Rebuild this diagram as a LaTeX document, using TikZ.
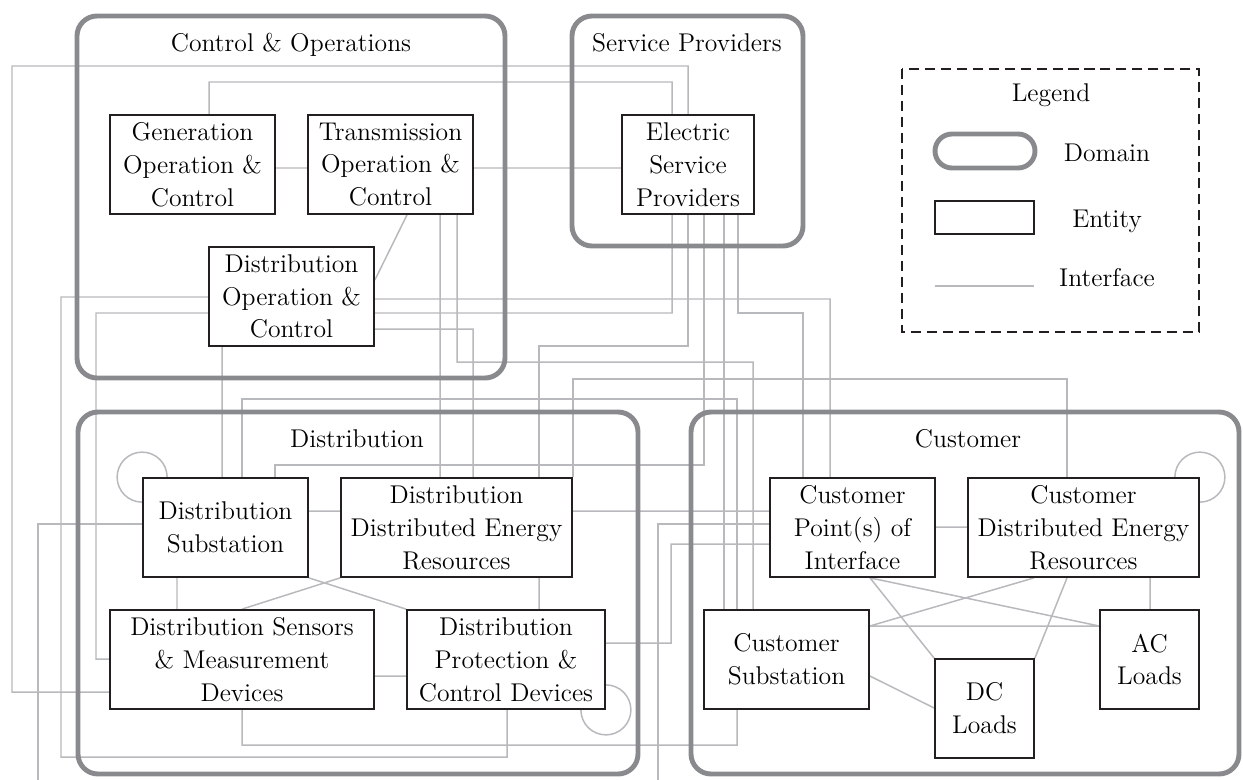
\documentclass[tikz,border=0pt]{standalone}
\usepackage{fontspec}
\usetikzlibrary{backgrounds}

\definecolor{domgray}{RGB}{137,138,142}
\definecolor{ifgray}{RGB}{184,185,189}
\definecolor{boxblk}{RGB}{35,31,32}
\newcommand{\boxfont}{\rmfamily\fontsize{14.6}{18.7}\selectfont}

\tikzset{
    entity/.style={draw=boxblk, fill=white, line width=1pt, align=center,
        inner sep=0pt, minimum height=19.8mm, text=black, font=\boxfont},
    domainbox/.style={draw=domgray, line width=2.8pt, rounded corners=4mm},
    iface/.style={draw=ifgray, line width=0.85pt},
    title/.style={anchor=base, text=black, font=\boxfont}
}

\begin{document}
\begin{tikzpicture}[x=0.2mm, y=-0.2mm]
    \useasboundingbox (0,0) rectangle (1243,779);

    \node[entity, minimum width=33mm] (gen) at (192.5,164.5) {Generation\\Operation \&\\Control};
    \node[entity, minimum width=33mm] (trans) at (390.5,164.5) {Transmission\\Operation \&\\Control};
    \node[entity, minimum width=33mm] (doc) at (291.5,296.5) {Distribution\\Operation \&\\Control};
    \node[entity, minimum width=26.4mm] (esp) at (688,164.5) {Electric\\Service\\Providers};
    \node[entity, minimum width=33mm] (dsub) at (225.5,527.5) {Distribution\\Substation};
    \node[entity, minimum width=46.2mm] (dder) at (456.5,527.5) {Distribution\\Distributed Energy\\Resources};
    \node[entity, minimum width=52.8mm] (dsmd) at (242,659.5) {Distribution Sensors\\\& Measurement\\Devices};
    \node[entity, minimum width=39.6mm] (dpcd) at (506,659.5) {Distribution\\Protection \&\\Control Devices};
    \node[entity, minimum width=33mm] (cpoi) at (852.5,527.5) {Customer\\Point(s) of\\Interface};
    \node[entity, minimum width=46.2mm] (cder) at (1083.5,527.5) {Customer\\Distributed Energy\\Resources};
    \node[entity, minimum width=33mm] (csub) at (786.5,659.5) {Customer\\Substation};
    \node[entity, minimum width=19.8mm] (dcl) at (984.5,708.5) {DC\\Loads};
    \node[entity, minimum width=19.8mm] (acl) at (1149.5,659.5) {AC\\Loads};

    \begin{scope}[on background layer]
        \draw[iface] (gen.east |- 0,168) -- (trans.west |- 0,168)
                     (trans.east |- 0,168) -- (esp.west |- 0,168)
                     (gen.north -| 209,0) |- (672,82) -- (esp.north -| 672,0)
                     (esp.north -| 688,0) |- (12,66) |- (dsmd.west |- 0,692)
                     (trans.south -| 407,0) -- (doc.east |- 0,280)
                     (trans.south -| 440,0) -- (dder.north -| 440,0)
                     (trans.south -| 457,0) |- (753,362) -- (csub.north -| 753,0)
                     (doc.east |- 0,299) -| (cpoi.north -| 830,0)
                     (doc.east |- 0,313) -| (esp.south -| 672,0)
                     (doc.east |- 0,329) -| (dder.north -| 473,0)
                     (doc.west |- 0,297) -| (61,757) -| (dpcd.south -| 507,0)
                     (doc.west |- 0,313) -| (96,659) -- (dsmd.west |- 0,659)
                     (doc.south -| 222,0) -- (dsub.north -| 222,0);
        \draw[iface] (esp.south -| 688,0) |- (539,346) -- (dder.north -| 539,0)
                     (esp.south -| 704,0) |- (275,465) -- (dsub.north -| 275,0)
                     (esp.south -| 724,0) -- (csub.north -| 724,0)
                     (esp.south -| 738,0) |- (803,313) -- (cpoi.north -| 803,0)
                     (dsub.north -| 242,0) |- (737,399) -- (csub.north -| 737,0)
                     (dder.north east) |- (1067,379) -- (cder.north -| 1067,0)
                     (dsub.west |- 0,524) -| (38,800) -| (658,524) -- (cpoi.west |- 0,524);
        \draw[iface] (dsub.east |- 0,511) -- (dder.west |- 0,511)
                     (dsub.south -| 177,0) -- (dsmd.north -| 177,0)
                     (dsub.south east) -- (dpcd.north west)
                     (dder.south west) -- (dsmd.north -| 242,0)
                     (dder.south -| 539,0) -- (dpcd.north -| 539,0)
                     (dsmd.east |- 0,676) -- (dpcd.west |- 0,676)
                     (dsmd.south -| 242,0) |- (737,745) -- (csub.south -| 737,0)
                     (dpcd.east |- 0,643) -| (671,544) -- (cpoi.west |- 0,544)
                     (dder.east |- 0,511) -- (cpoi.west |- 0,511);
        \draw[iface] (cpoi.east |- 0,527) -- (cder.west |- 0,527)
                     (cpoi.south -| 870,0) -- (dcl.north west)
                     (cpoi.south -| 870,0) -- (acl.west |- 0,626)
                     (cder.south -| 1034,0) -- (csub.east |- 0,626)
                     (cder.south -| 1067,0) -- (dcl.north east)
                     (cder.south -| 1150,0) -- (acl.north -| 1150,0)
                     (csub.east |- 0,626) -- (acl.west |- 0,626)
                     (csub.east |- 0,676) -- (dcl.west |- 0,708);
        \draw[iface] (dsub.north west) circle[radius=5mm]
                     (dpcd.south east) circle[radius=5mm]
                     (cder.north east) circle[radius=5mm];
    \end{scope}

    \draw[domainbox] (77,16) rectangle (505,378)
                     (572,16) rectangle (803,246)
                     (78,412) rectangle (638,774)
                     (691,412) rectangle (1239,774);
    \node[title] (tco) at (291,52) {Control \& Operations};
    \node[title] (tsp) at (687,52) {Service Providers};
    \node[title] (tdist) at (357,447) {Distribution};
    \node[title] (tcust) at (968,447) {Customer};

    \draw[draw=boxblk, line width=0.8pt, dash pattern=on 5.7pt off 3.4pt] (902,69) rectangle (1199,332);
    \node[title] (tleg) at (1051,101) {Legend};
    \draw[domainbox, rounded corners=3.4mm] (935,134) rectangle (1035,168);
    \node[title] (tdom) at (1107,161) {Domain};
    \draw[draw=boxblk, line width=1pt] (935,201) rectangle (1034,234);
    \node[title] (tent) at (1107,227) {Entity};
    \draw[iface] (935,286) -- (1034,286);
    \node[title] (tif) at (1107,286) {Interface};
\end{tikzpicture}
\end{document}
